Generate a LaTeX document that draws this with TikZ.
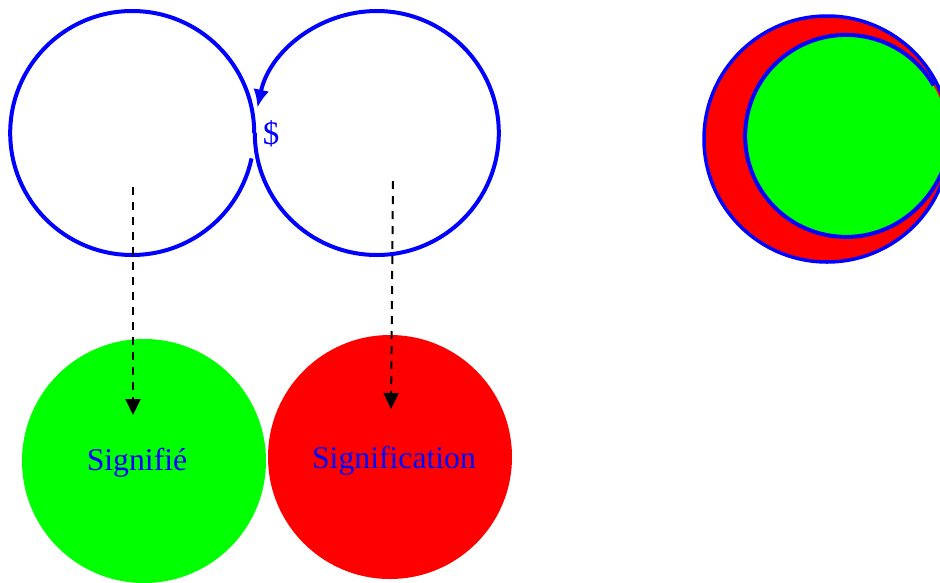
\documentclass[tikz,border=0pt]{standalone}
\usepackage{fontspec}
\setmainfont{Liberation Serif}
\usetikzlibrary{arrows.meta}
\definecolor{pureblue}{RGB}{0,0,255}
\definecolor{puregreen}{RGB}{0,255,0}
\definecolor{purered}{RGB}{255,0,0}
\begin{document}
\begin{tikzpicture}[x=1pt,y=-1pt,
  ring/.style={circle, inner sep=0pt, minimum size=244pt},
  loopline/.style={draw=pureblue, line width=4pt},
  blob/.style={circle, inner sep=0pt, minimum size=244pt},
  label/.style={text=pureblue, font=\fontsize{31.7}{36}\selectfont},
  link/.style={draw=black, line width=2pt, dash pattern=on 8pt off 7pt,
    -{Triangle[length=16pt,width=15pt]}}]
\useasboundingbox (0,0) rectangle (940,582);
\clip (0,0) rectangle (940,582);

% two open loops
\node[ring] (lc) at (132,133) {};
\node[ring] (rc) at (377,133) {};
\draw[loopline] (lc.0) arc[start angle=0, end angle=348, radius=122pt];
\draw[loopline, -{Latex[length=18pt,width=16pt]}]
  (rc.180) arc[start angle=180, end angle=528, radius=122pt];
\node[text=pureblue, font=\fontsize{33}{38}\selectfont] (dollar) at (271,134) {\$};

% filled circles below
\node[blob, fill=puregreen] (sgf) at (144,461) {};
\node[blob, fill=purered] (sgn) at (390,457) {};
\node[label] (sgftxt) at (137,463) {Signifié};
\node[label] (sgntxt) at (394,461) {Signification};

% dashed links
\coordinate (a1) at (133,187);
\coordinate (b1) at (133,415);
\coordinate (a2) at (393,181);
\coordinate (b2) at (391,409);
\draw[link] (a1) -- (b1);
\draw[link] (a2) -- (b2);

% nested circles on the right
\node[circle, inner sep=0pt, minimum size=246pt, fill=purered, draw=pureblue,
  line width=3.5pt] (outer) at (827,139) {};
\node[circle, inner sep=0pt, minimum size=202pt, fill=puregreen] (inner) at (846,136) {};
\draw[loopline, -{Latex[length=18pt,width=16pt]}]
  (inner.30) arc[start angle=30, end angle=378, radius=101pt];
\end{tikzpicture}
\end{document}
